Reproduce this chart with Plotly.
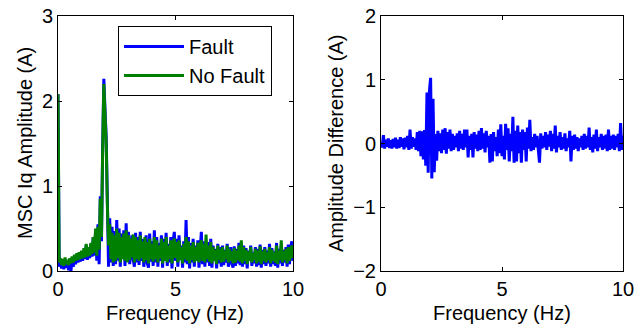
import plotly.graph_objects as go

STEP = 0.05

fault = [
    2.08, 0.05, 0.12, 0.03, 0.10, 0.02, 0.12, 0.04, 0.09, 0.01,
    0.10, 0.00, 0.13, 0.05, 0.16, 0.08, 0.18, 0.10, 0.20, 0.11,
    0.22, 0.12, 0.24, 0.14, 0.30, 0.13, 0.26, 0.15, 0.32, 0.17,
    0.40, 0.18, 0.48, 0.12, 0.55, 0.08, 0.88, 0.35, 1.45, 2.26,
    1.90, 1.58, 0.85, 0.05, 0.62, 0.10, 0.52, 0.06, 0.47, 0.08,
    0.60, 0.12, 0.50, 0.05, 0.44, 0.15, 0.48, 0.06, 0.56, 0.12,
    0.46, 0.08, 0.22, 0.42, 0.14, 0.05, 0.45, 0.10, 0.40, 0.07,
    0.46, 0.12, 0.38, 0.05, 0.18, 0.42, 0.09, 0.04, 0.44, 0.11,
    0.35, 0.06, 0.48, 0.10, 0.40, 0.05, 0.33, 0.12, 0.42, 0.04,
    0.38, 0.15, 0.45, 0.06, 0.32, 0.10, 0.40, 0.03, 0.36, 0.46,
    0.12, 0.38, 0.05, 0.42, 0.16, 0.30, 0.04, 0.35, 0.10, 0.60,
    0.08, 0.40, 0.03, 0.33, 0.10, 0.38, 0.05, 0.30, 0.14, 0.36,
    0.04, 0.32, 0.46, 0.08, 0.35, 0.05, 0.30, 0.10, 0.34, 0.06,
    0.38, 0.04, 0.30, 0.12, 0.26, 0.03, 0.32, 0.09, 0.28, 0.05,
    0.30, 0.07, 0.25, 0.10, 0.32, 0.05, 0.20, 0.28, 0.08, 0.04,
    0.29, 0.06, 0.26, 0.09, 0.33, 0.07, 0.25, 0.05, 0.30, 0.08,
    0.27, 0.03, 0.24, 0.12, 0.30, 0.06, 0.22, 0.09, 0.28, 0.05,
    0.26, 0.07, 0.31, 0.04, 0.25, 0.08, 0.28, 0.06, 0.24, 0.09,
    0.32, 0.05, 0.27, 0.08, 0.23, 0.06, 0.33, 0.04, 0.26, 0.09,
    0.30, 0.06, 0.25, 0.10, 0.28, 0.05, 0.31, 0.08, 0.26, 0.35,
    0.12,
]

no_fault = [
    2.08, 0.10, 0.15, 0.07, 0.14, 0.06, 0.16, 0.08, 0.13, 0.07,
    0.15, 0.09, 0.17, 0.10, 0.19, 0.12, 0.21, 0.13, 0.22, 0.14,
    0.24, 0.15, 0.27, 0.16, 0.32, 0.17, 0.28, 0.18, 0.33, 0.20,
    0.40, 0.22, 0.50, 0.18, 0.52, 0.25, 0.85, 0.40, 1.40, 2.20,
    1.85, 1.52, 0.78, 0.30, 0.55, 0.14, 0.45, 0.10, 0.42, 0.12,
    0.50, 0.15, 0.45, 0.10, 0.40, 0.14, 0.44, 0.12, 0.48, 0.10,
    0.42, 0.13, 0.38, 0.16, 0.43, 0.10, 0.40, 0.14, 0.36, 0.12,
    0.42, 0.15, 0.35, 0.10, 0.40, 0.13, 0.34, 0.09, 0.38, 0.14,
    0.32, 0.11, 0.40, 0.14, 0.36, 0.10, 0.30, 0.15, 0.38, 0.09,
    0.34, 0.12, 0.40, 0.10, 0.30, 0.14, 0.36, 0.09, 0.32, 0.38,
    0.15, 0.34, 0.10, 0.36, 0.13, 0.28, 0.09, 0.32, 0.14, 0.40,
    0.12, 0.35, 0.09, 0.30, 0.13, 0.34, 0.10, 0.28, 0.12, 0.33,
    0.10, 0.30, 0.36, 0.12, 0.32, 0.10, 0.43, 0.14, 0.30, 0.11,
    0.34, 0.09, 0.28, 0.12, 0.25, 0.08, 0.30, 0.13, 0.26, 0.10,
    0.28, 0.11, 0.24, 0.14, 0.30, 0.10, 0.26, 0.12, 0.23, 0.09,
    0.27, 0.10, 0.24, 0.13, 0.30, 0.11, 0.36, 0.09, 0.28, 0.12,
    0.25, 0.08, 0.23, 0.12, 0.28, 0.10, 0.21, 0.13, 0.26, 0.09,
    0.24, 0.11, 0.29, 0.08, 0.23, 0.12, 0.26, 0.10, 0.22, 0.13,
    0.28, 0.09, 0.25, 0.12, 0.22, 0.10, 0.30, 0.08, 0.24, 0.13,
    0.36, 0.10, 0.23, 0.13, 0.26, 0.09, 0.28, 0.12, 0.24, 0.30,
    0.15,
]

difference = [
    0.02, -0.06, 0.13, -0.08, 0.06, -0.05, 0.08, -0.07, 0.05, -0.08,
    0.07, -0.06, 0.09, -0.08, 0.06, -0.07, 0.10, -0.05, 0.08, -0.09,
    0.09, -0.06, 0.12, -0.10, 0.22, -0.08, 0.10, -0.05, 0.08, -0.10,
    0.18, -0.12, 0.20, -0.20, 0.19, -0.25, 0.21, -0.35, 0.80, -0.46,
    0.82, 1.03, -0.55, 0.70, -0.45, 0.15, -0.27, 0.20, -0.12, 0.16,
    -0.15, 0.22, -0.10, 0.24, -0.16, 0.18, -0.08, 0.22, -0.12, 0.15,
    -0.10, 0.12, -0.06, 0.16, -0.12, 0.20, -0.08, 0.15, -0.10, 0.22,
    -0.06, 0.22, -0.22, 0.12, -0.10, 0.15, -0.22, 0.18, -0.08, 0.14,
    -0.12, 0.20, -0.10, 0.24, -0.08, 0.16, -0.14, 0.20, -0.06, 0.12,
    -0.30, 0.15, -0.28, 0.18, -0.12, 0.10, -0.20, 0.22, -0.15, 0.30,
    -0.20, 0.12, -0.25, 0.31, -0.10, 0.24, -0.28, 0.15, -0.12, 0.42,
    -0.30, 0.20, -0.28, 0.28, -0.15, 0.18, -0.30, 0.22, -0.10, 0.18,
    -0.28, 0.25, -0.08, 0.37, -0.12, 0.10, -0.10, 0.15, -0.06, 0.12,
    -0.10, -0.30, 0.16, -0.08, 0.12, -0.06, 0.18, -0.10, 0.14, -0.05,
    0.20, -0.12, 0.15, -0.08, 0.28, -0.14, 0.12, -0.06, 0.18, -0.10,
    0.10, -0.08, 0.16, -0.12, 0.08, -0.06, 0.20, -0.28, 0.12, -0.10,
    0.14, -0.08, 0.10, -0.12, 0.08, -0.06, 0.12, -0.10, 0.15, -0.08,
    0.12, -0.06, 0.25, -0.10, 0.10, -0.14, 0.14, -0.08, 0.22, -0.12,
    0.10, -0.06, 0.15, -0.10, 0.12, -0.08, 0.14, -0.12, 0.22, -0.10,
    0.12, -0.08, 0.14, -0.10, 0.12, -0.06, 0.15, -0.12, 0.32, -0.10,
    0.12,
]

freq = [round(i * STEP, 2) for i in range(len(fault))]

left_yticks = [0, 1, 2, 3]
right_yticks = [-2, -1, 0, 1, 2]
xticks = [0, 5, 10]

W, H = 635, 334
FONT = "Liberation Sans, Arial, sans-serif"
FS = 20
TFS = 20
LW = 3

fig = go.Figure()
fig.add_trace(go.Scatter(x=freq, y=fault, mode="lines", name="Fault",
                         line=dict(color="#0000FF", width=LW),
                         xaxis="x", yaxis="y"))
fig.add_trace(go.Scatter(x=freq, y=no_fault, mode="lines", name="No Fault",
                         line=dict(color="#008000", width=LW),
                         xaxis="x", yaxis="y"))
fig.add_trace(go.Scatter(x=freq, y=difference, mode="lines", name="Difference",
                         line=dict(color="#0000FF", width=LW),
                         xaxis="x2", yaxis="y2", showlegend=False))

ydom = [1 - 271 / H, 1 - 16 / H]
axis_common = dict(showline=True, linecolor="black", linewidth=1, mirror="ticks",
                   ticks="inside", ticklen=4, tickcolor="black", showgrid=False,
                   zeroline=False, automargin=False,
                   tickfont=dict(family=FONT, size=TFS, color="black"))

fig.update_layout(
    width=W, height=H,
    margin=dict(l=0, r=0, t=0, b=0),
    paper_bgcolor="white", plot_bgcolor="white",
    font=dict(family=FONT, size=FS, color="black"),
    xaxis=dict(domain=[58 / W, 293 / W], range=[0, 10], tickvals=xticks,
               anchor="y", ticklabelstandoff=0, **axis_common),
    yaxis=dict(domain=ydom, range=[0, 3], tickvals=left_yticks,
               anchor="x", **axis_common),
    xaxis2=dict(domain=[381 / W, 623 / W], range=[0, 10], tickvals=xticks,
                anchor="y2", ticklabelstandoff=0, **axis_common),
    yaxis2=dict(domain=ydom, range=[-2, 2], tickvals=right_yticks,
                anchor="x2", **axis_common),
    legend=dict(x=118 / W, y=1 - 26 / H, xanchor="left", yanchor="top",
                bordercolor="black", borderwidth=1, bgcolor="white",
                itemwidth=60, font=dict(family=FONT, size=FS, color="black"),
                tracegroupgap=0),
    showlegend=True,
    annotations=[
        dict(text="Frequency (Hz)", x=175 / W, y=1 - 313 / H, xref="paper", yref="paper",
             showarrow=False, xanchor="center", yanchor="middle",
             font=dict(family=FONT, size=FS)),
        dict(text="Frequency (Hz)", x=502 / W, y=1 - 313 / H, xref="paper", yref="paper",
             showarrow=False, xanchor="center", yanchor="middle",
             font=dict(family=FONT, size=FS)),
        dict(text="MSC Iq Amplitude (A)", x=25 / W, y=1 - 143 / H, xref="paper", yref="paper",
             showarrow=False, textangle=-90, xanchor="center", yanchor="middle",
             font=dict(family=FONT, size=FS)),
        dict(text="Amplitude Difference (A)", x=336 / W, y=1 - 143 / H, xref="paper", yref="paper",
             showarrow=False, textangle=-90, xanchor="center", yanchor="middle",
             font=dict(family=FONT, size=FS)),
    ],
)

fig.write_html("out.html")
